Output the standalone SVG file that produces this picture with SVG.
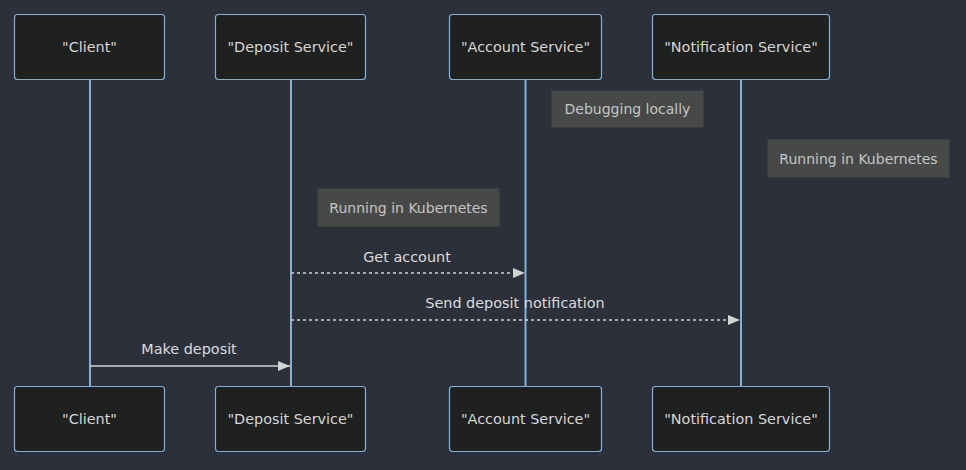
<svg xmlns="http://www.w3.org/2000/svg" width="966" height="470" viewBox="0 0 966 470">
<style>
.bg{fill:#2b303b}
.actor rect{fill:#1f2020;stroke:#81b1db;stroke-width:1.2}
.actor text{fill:#d6d6d6;font-family:"DejaVu Sans",Verdana,sans-serif;font-size:14.4px;text-anchor:middle;dominant-baseline:central}
.life{stroke:#81b1db;stroke-width:2;fill:none}
.note rect{fill:#474949;stroke:#3a3c3c;stroke-width:1}
.note text{fill:#c4c4c4;font-family:"DejaVu Sans",Verdana,sans-serif;font-size:14px;text-anchor:middle;dominant-baseline:central}
.msg{stroke:#d3d3d3;stroke-width:1.5;fill:none}
.dash{stroke-dasharray:3,3}
.msgtext{fill:#dcdcdc;font-family:"DejaVu Sans",Verdana,sans-serif;font-size:14.4px;text-anchor:middle;dominant-baseline:central}
</style>
<defs>
<marker id="arrow" viewBox="0 0 12 10" refX="12" refY="5" markerWidth="12" markerHeight="10" markerUnits="userSpaceOnUse" orient="auto">
<path d="M0,0 L12,5 L0,10 z" fill="#d3d3d3"/>
</marker>
</defs>
<rect class="bg" x="0" y="0" width="966" height="470"/>
<g id="lifelines">
<line class="life" x1="90" y1="79" x2="90" y2="386"/>
<line class="life" x1="291" y1="79" x2="291" y2="386"/>
<line class="life" x1="525.5" y1="79" x2="525.5" y2="386"/>
<line class="life" x1="741" y1="79" x2="741" y2="386"/>
</g>
<g id="actor-client-top" class="actor"><rect x="14.5" y="14.5" width="150" height="65" rx="3"/><text x="89.5" y="47">"Client"</text></g>
<g id="actor-deposit-top" class="actor"><rect x="215.5" y="14.5" width="150" height="65" rx="3"/><text x="290.5" y="47">"Deposit Service"</text></g>
<g id="actor-account-top" class="actor"><rect x="449.5" y="14.5" width="152" height="65" rx="3"/><text x="525.5" y="47">"Account Service"</text></g>
<g id="actor-notification-top" class="actor"><rect x="652.5" y="14.5" width="177" height="65" rx="3"/><text x="741" y="47">"Notification Service"</text></g>
<g id="actor-client-bottom" class="actor"><rect x="14.5" y="386.5" width="150" height="65" rx="3"/><text x="89.5" y="419">"Client"</text></g>
<g id="actor-deposit-bottom" class="actor"><rect x="215.5" y="386.5" width="150" height="65" rx="3"/><text x="290.5" y="419">"Deposit Service"</text></g>
<g id="actor-account-bottom" class="actor"><rect x="449.5" y="386.5" width="152" height="65" rx="3"/><text x="525.5" y="419">"Account Service"</text></g>
<g id="actor-notification-bottom" class="actor"><rect x="652.5" y="386.5" width="177" height="65" rx="3"/><text x="741" y="419">"Notification Service"</text></g>
<g id="note-debugging" class="note"><rect x="551.5" y="90.5" width="152" height="37"/><text x="627.5" y="109">Debugging locally</text></g>
<g id="note-k8s-notification" class="note"><rect x="767.5" y="139.5" width="182" height="38"/><text x="858.5" y="158.5">Running in Kubernetes</text></g>
<g id="note-k8s-deposit" class="note"><rect x="317.5" y="188.5" width="182" height="38"/><text x="408.5" y="207.5">Running in Kubernetes</text></g>
<g id="connectors">
<line class="msg dash" x1="291" y1="273" x2="525" y2="273" marker-end="url(#arrow)"/>
<text class="msgtext" x="407" y="257">Get account</text>
<line class="msg dash" x1="291" y1="320" x2="740" y2="320" marker-end="url(#arrow)"/>
<text class="msgtext" x="515" y="303">Send deposit notification</text>
<line class="msg" x1="90" y1="366" x2="290" y2="366" marker-end="url(#arrow)"/>
<text class="msgtext" x="189" y="349">Make deposit</text>
</g>
</svg>
